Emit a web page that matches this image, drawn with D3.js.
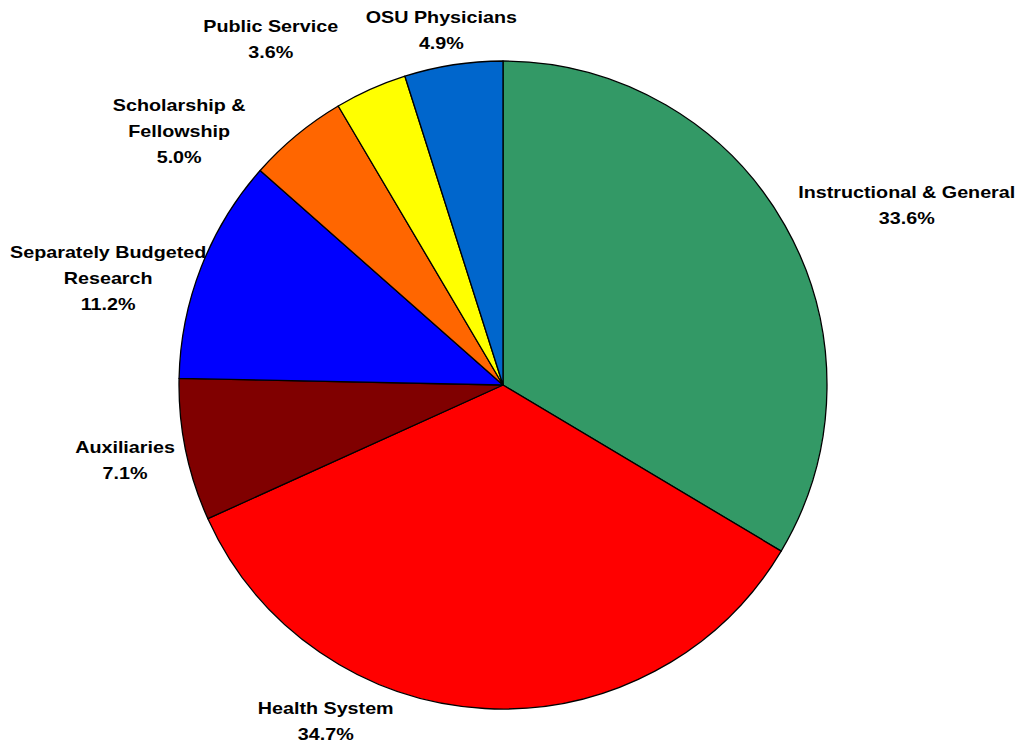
<!DOCTYPE html>
<html><head><meta charset="utf-8">
<script src="https://cdn.jsdelivr.net/npm/d3@7"></script>
<style>body{margin:0;background:#fff}svg{display:block}</style>
</head><body>
<svg id="c" width="1023" height="744"></svg>
<script>
const categories = ["Instructional & General","Health System","Auxiliaries","Separately Budgeted Research","Scholarship & Fellowship","Public Service","OSU Physicians"];
const values = [33.6, 34.7, 7.1, 11.2, 5.0, 3.6, 4.9];
const labelLines = [["Instructional & General"],["Health System"],["Auxiliaries"],["Separately Budgeted","Research"],["Scholarship &","Fellowship"],["Public Service"],["OSU Physicians"]];
const colors = ["#339966","#FF0000","#800000","#0000FF","#FF6600","#FFFF00","#0066CC"];
const labelNudge = [[122,-20.5],[-159,12.5],[-60.6,10],[-93,11],[-117.5,-4],[-100,-50],[-12,-35]];

const cx = 503, cy = 385, r = 324;
const svg = d3.select("#c");
const g = svg.append("g").attr("transform", `translate(${cx},${cy})`);
const pie = d3.pie().sort(null).value(d => d);
const arcs = pie(values);
const arc = d3.arc().innerRadius(0).outerRadius(r);
g.selectAll("path").data(arcs).join("path")
  .attr("d", arc).attr("fill", (d,i) => colors[i])
  .attr("stroke", "#000").attr("stroke-width", 1.3).attr("stroke-linejoin","round");

const lh = 26;
arcs.forEach((d,i) => {
  const a = (d.startAngle + d.endAngle)/2;
  const px = r*Math.sin(a) + labelNudge[i][0];
  const py = -r*Math.cos(a) + labelNudge[i][1];
  const lines = labelLines[i].concat([values[i].toFixed(1) + "%"]);
  const t = g.append("text").attr("text-anchor","middle")
    .attr("transform", `translate(${px},${py}) scale(1.16,1)`)
    .attr("font-family","'Liberation Sans', Arial, sans-serif")
    .attr("font-weight","bold").attr("font-size",17).attr("fill","#000");
  lines.forEach((ln,k) => {
    t.append("tspan").attr("x", 0)
     .attr("y", (k - (lines.length-1)/2)*lh + 6).text(ln);
  });
});
</script>
</body></html>
